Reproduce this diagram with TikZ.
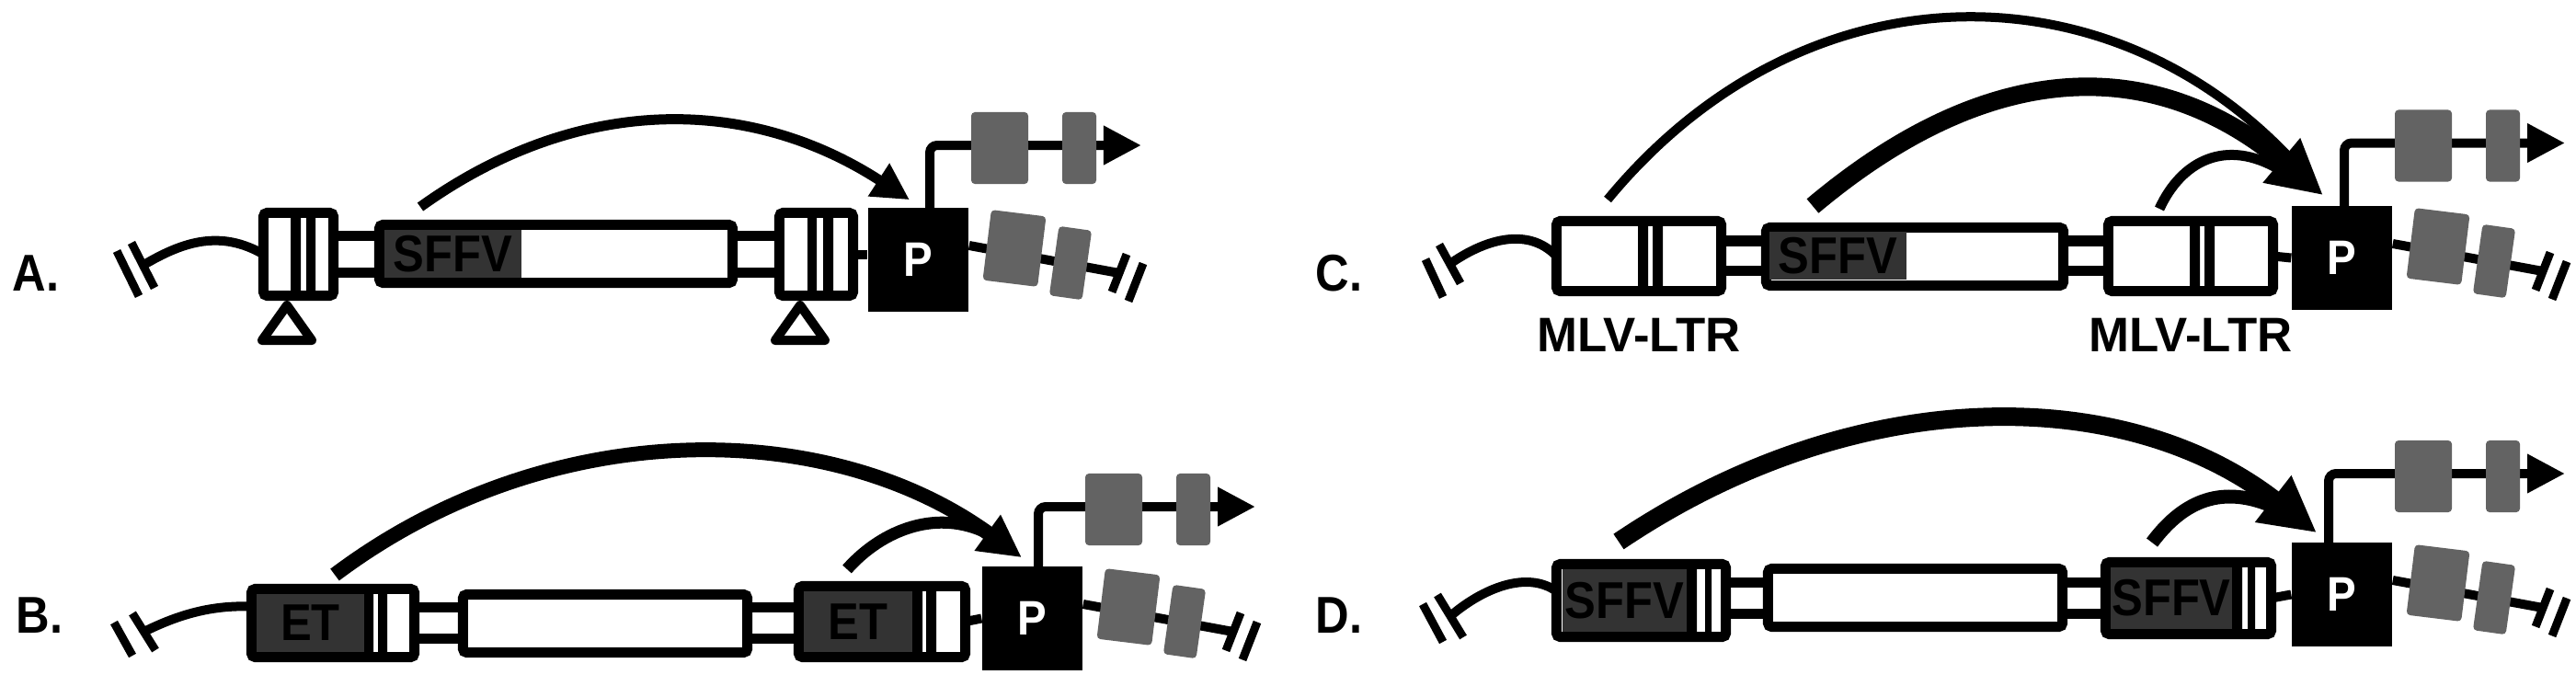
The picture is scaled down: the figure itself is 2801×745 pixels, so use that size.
\documentclass[tikz,border=0pt]{standalone}
\usepackage{fontspec}
\setmainfont{Liberation Sans}
\usepackage{graphicx}
\usetikzlibrary{arrows.meta,positioning}
\definecolor{Exon}{HTML}{636363}
\definecolor{Enh}{HTML}{333333}
\newcommand{\lbl}{\fontsize{16pt}{16pt}\selectfont\bfseries}
\newcommand{\narrow}[1]{\scalebox{0.9}[1]{#1}}
% promoter, transcript and the two exons on the downstream genomic side
\newcommand{\gene}[5]{%
  \begin{scope}[shift={(#2,#3)}]
    \draw[dna,rounded corners=0.08cm,-{Triangle[length=4.1mm,width=4mm]}]
      (#4,0) |- (297,#5);
    \node[exon,minimum width=0.62cm,minimum height=0.78cm] (#1t1) at (143,#5+3) {};
    \node[exon,minimum width=0.37cm,minimum height=0.78cm] (#1t2) at (229.5,#5+3) {};
    \node[prom] (#1) at (54.5,56.5) {\narrow{P}};
    \coordinate (#1c) at (273,71);
    \draw[dna] ([yshift=0.155cm]#1.east) -- (#1c);
    \node[exon,minimum width=0.60cm,minimum height=0.77cm,rotate=-7] (#1b1) at (159,44) {};
    \node[exon,minimum width=0.36cm,minimum height=0.76cm,rotate=-8] (#1b2) at (220,60) {};
    \draw[cut] (265,91.5) -- (281,50.5);
    \draw[cut] (283,101.5) -- (299,60.5);
  \end{scope}}

\begin{document}
\begin{tikzpicture}[x=0.01cm,y=-0.01cm,
    box/.style={draw,line width=0.11cm,rounded corners=0.04cm,fill=white,
      inner sep=0pt,outer sep=0pt},
    tube/.style={draw,line width=0.11cm,fill=white,inner sep=0pt,outer sep=0pt},
    enh/.style={fill=Enh,inner sep=0pt,font=\lbl},
    prom/.style={fill=black,text=white,inner sep=0pt,minimum width=1.09cm,
      minimum height=1.13cm,font=\fontsize{15pt}{15pt}\selectfont\bfseries},
    exon/.style={fill=Exon,rounded corners=0.04cm,inner sep=0pt},
    dna/.style={line width=0.1cm},
    cut/.style={line width=0.09cm},
    lox/.style={line width=0.1cm,line join=round,fill=white},
    reach/.style={line width=0.11cm},
    panel/.style={font=\lbl,inner sep=0pt},
    ltrname/.style={font=\fontsize{15pt}{15pt}\selectfont\bfseries,inner sep=0pt}
  ]
  \useasboundingbox (0,0) rectangle (2801,745);

  % A
  \node[panel] (labA) at (39,297) {\narrow{A.}};
  \draw[cut] (127,273) -- (151,322);
  \draw[cut] (143,264) -- (168,313);
  \coordinate (cutA) at (155.5,288.5);
  \node[tube,minimum width=0.50cm,minimum height=0.40cm] (tA1) at (387.5,276.5) {};
  \node[tube,minimum width=0.51cm,minimum height=0.40cm] (tA2) at (822,276.5) {};
  \node[box,minimum width=0.76cm,minimum height=0.90cm] (ltrA1) at (324.5,276.5) {};
  \node[box,minimum width=3.84cm,minimum height=0.63cm] (sffvA) at (604.5,276) {};
  \node[box,minimum width=0.80cm,minimum height=0.90cm] (ltrA2) at (887.5,276.5) {};
  \node[enh,minimum width=1.49cm,minimum height=0.52cm] (enhA) at (492.5,276) {\narrow{SFFV}};
  \fill (316,237) rectangle (327,316) (333,237) rectangle (343,316);
  \fill (878,237) rectangle (888,316) (895,237) rectangle (906,316);
  \draw[lox] (312,332) -- (339,370) -- (285,370) -- cycle;
  \draw[lox] (870,332) -- (897,370) -- (843,370) -- cycle;
  \draw[dna] (cutA) .. controls (200,262) and (240,250) .. (ltrA1.west);
  \gene{pA}{944}{226}{67}{-68}
  \draw[dna] (ltrA2.east) -- (ltrA2.east -| pA.west);
  \coordinate (eA) at (457,225);
  \draw[reach,-{Triangle[length=4mm,width=4mm]}] (eA) .. controls (627,103) and (813,103)
    .. ([xshift=-0.095cm,yshift=0.08cm]pA.north);

  % B
  \node[panel] (labB) at (43,669) {\narrow{B.}};
  \draw[cut] (124,677) -- (144,713);
  \draw[cut] (144,667) -- (169,707);
  \coordinate (cutB) at (156.5,687);
  \node[tube,minimum width=0.53cm,minimum height=0.34cm] (tB1) at (477,677) {};
  \node[tube,minimum width=0.56cm,minimum height=0.34cm] (tB2) at (840.5,677) {};
  \node[box,minimum width=1.77cm,minimum height=0.74cm] (etB1) at (362,677.5) {};
  \node[box,minimum width=3.09cm,minimum height=0.63cm] (bodyB) at (658,678) {};
  \node[box,minimum width=1.81cm,minimum height=0.77cm] (etB2) at (959,676) {};
  \node[enh,minimum width=1.17cm,minimum height=0.63cm] (enhB1) at (337.5,677.5) {\narrow{ET}};
  \node[enh,minimum width=1.18cm,minimum height=0.66cm] (enhB2) at (933,676) {\narrow{ET}};
  \fill (396,646) rectangle (406,709) (411,646) rectangle (421,709);
  \fill (992,643) rectangle (1003,709) (1007,643) rectangle (1018,709);
  \draw[dna] (cutB) .. controls (195,668) and (230,658) .. ([yshift=0.18cm]etB1.west);
  \gene{pB}{1068}{616}{61}{-65}
  \draw[dna] (etB2.east) -- (pB.west);
  \coordinate (eB1) at (364,625);
  \coordinate (eB2) at (921,619);
  \coordinate (hB2) at (1074,580);
  \draw[reach,line width=0.13cm] (eB2) .. controls (960,575) and (1020,553) .. (hB2);
  \draw[reach,line width=0.16cm,-{Triangle[length=4.6mm,width=4.5mm]}] (eB1)
    .. controls (594,452) and (898,452) .. ([xshift=-0.115cm,yshift=0.09cm]pB.north);

  % C
  \node[panel] (labC) at (1456,297) {\narrow{C.}};
  \draw[cut] (1550,282) -- (1569,323);
  \draw[cut] (1565,266) -- (1588,308);
  \coordinate (cutC) at (1576.5,287);
  \node[tube,minimum width=0.49cm,minimum height=0.325cm] (tC1) at (1896,278.25) {};
  \node[tube,minimum width=0.49cm,minimum height=0.325cm] (tC2) at (2268,278.25) {};
  \node[box,minimum width=1.79cm,minimum height=0.76cm] (ltrC1) at (1782,278.5) {};
  \node[box,minimum width=3.23cm,minimum height=0.63cm] (sffvC) at (2082,279) {};
  \node[box,minimum width=1.79cm,minimum height=0.76cm] (ltrC2) at (2382,278.5) {};
  \node[enh,minimum width=1.49cm,minimum height=0.52cm] (enhC) at (1998.5,278) {\narrow{SFFV}};
  \fill (1781,246) rectangle (1792,311) (1797,246) rectangle (1808,311);
  \fill (2381,246) rectangle (2392,311) (2397,246) rectangle (2408,311);
  \node[ltrname,below=0.285cm of ltrC1] (mlvC1) {MLV-LTR};
  \node[ltrname,below=0.285cm of ltrC2] (mlvC2) {MLV-LTR};
  \draw[dna] (cutC) .. controls (1612,262) and (1660,245) .. (ltrC1.west);
  \gene{pC}{2492}{224}{57}{-68.5}
  \draw[dna] (ltrC2.east) -- (pC.west);
  \coordinate (eC1) at (1748,217);
  \coordinate (eC2) at (1971,224);
  \coordinate (eC3) at (2348,227);
  \coordinate (hC1) at (2490,172);
  \coordinate (hC3) at (2478,184);
  \draw[reach,line width=0.1cm] (eC1) .. controls (1960,-40) and (2290,-40) .. (hC1);
  \draw[reach] (eC3) .. controls (2372,175) and (2420,150) .. (hC3);
  \draw[reach,line width=0.2cm,-{Triangle[length=5.9mm,width=5.9mm]}] (eC2)
    .. controls (2166,60) and (2344,60) .. ([xshift=-0.205cm,yshift=0.11cm]pC.north);

  % D
  \node[panel] (labD) at (1456,669) {\narrow{D.}};
  \draw[cut] (1547,657) -- (1569,698);
  \draw[cut] (1563,647) -- (1591,693);
  \coordinate (cutD) at (1577,670);
  \node[tube,minimum width=0.46cm,minimum height=0.345cm] (tD1) at (1899.5,650.25) {};
  \node[tube,minimum width=0.47cm,minimum height=0.345cm] (tD2) at (2266,650.25) {};
  \node[box,minimum width=1.84cm,minimum height=0.79cm] (sD1) at (1784.5,653) {};
  \node[box,minimum width=3.20cm,minimum height=0.63cm] (bodyD) at (2082.5,650) {};
  \node[box,minimum width=1.80cm,minimum height=0.78cm] (sD2) at (2379.5,650.5) {};
  \node[enh,minimum width=1.35cm,minimum height=0.68cm] (enhD1) at (1766.5,653) {\narrow{SFFV}};
  \node[enh,minimum width=1.32cm,minimum height=0.67cm] (enhD2) at (2361,650.5) {\narrow{SFFV}};
  \fill (1834,619) rectangle (1845,687) (1854,619) rectangle (1861,687);
  \fill (2427,617) rectangle (2438,684) (2444,617) rectangle (2452,684);
  \draw[dna] (cutD) .. controls (1612,640) and (1660,620) .. ([yshift=0.1cm]sD1.west);
  \gene{pD}{2492}{590}{40}{-75}
  \draw[dna] (sD2.east) -- (pD.west);
  \coordinate (eD1) at (1760,589);
  \coordinate (eD2) at (2340,590);
  \coordinate (hD2) at (2470,550);
  \draw[reach,line width=0.15cm] (eD2) .. controls (2370,550) and (2410,525) .. (hD2);
  \draw[reach,line width=0.2cm,-{Triangle[length=6mm,width=6mm]}] (eD1)
    .. controls (2016,416) and (2309,416) .. ([xshift=-0.275cm,yshift=0.10cm]pD.north);
\end{tikzpicture}
\end{document}
